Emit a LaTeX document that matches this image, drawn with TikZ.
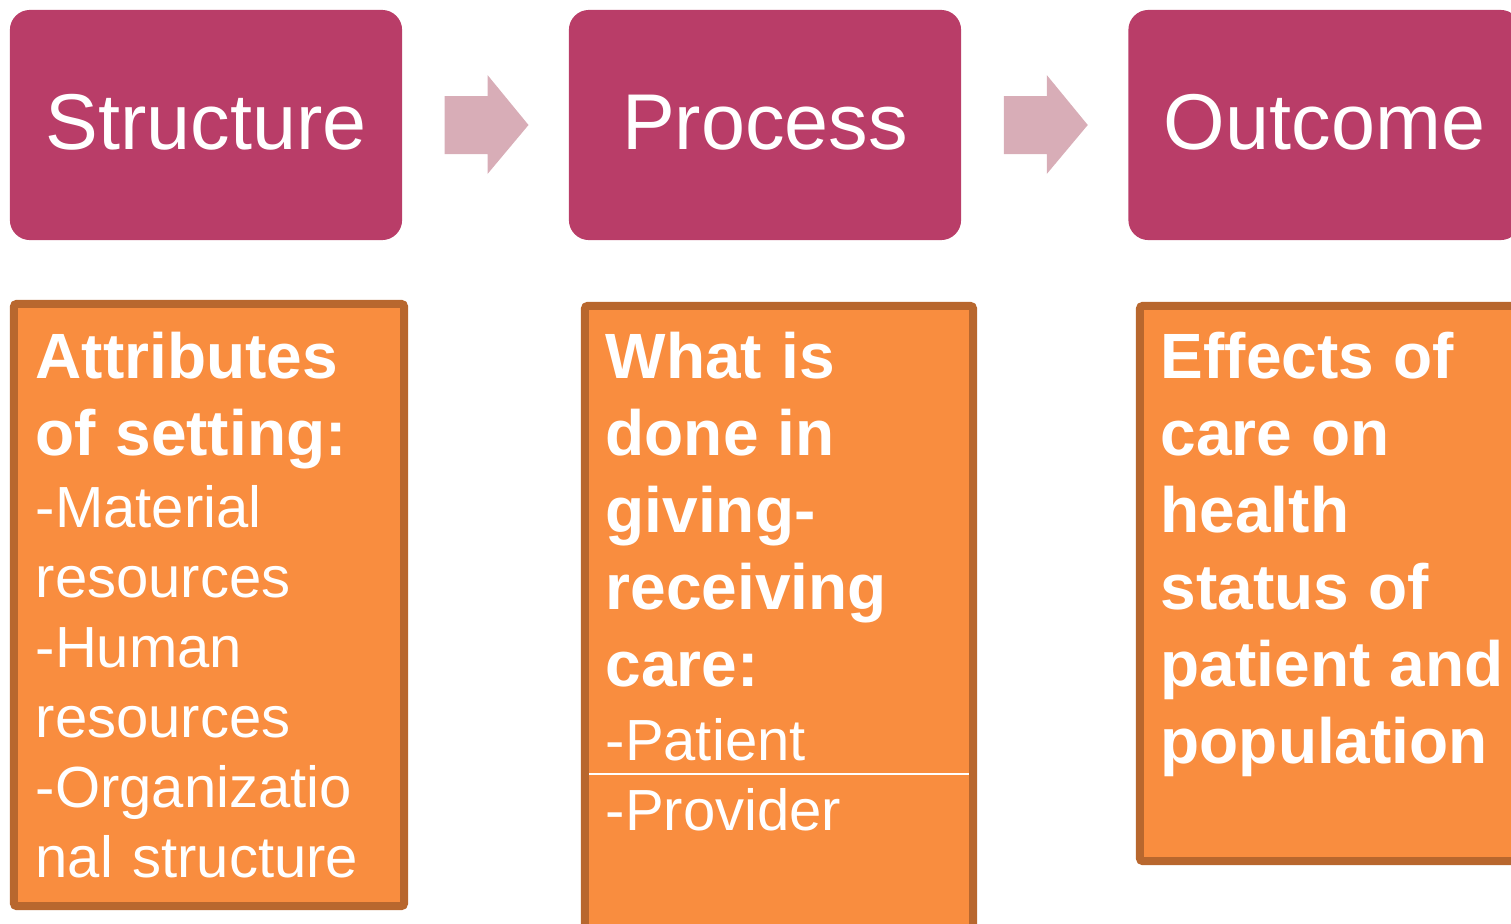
\documentclass[tikz,border=0pt]{standalone}
\usepackage{fontspec}
\setmainfont{Liberation Sans}
\usetikzlibrary{calc}
\definecolor{stagepink}{HTML}{B93D68}
\definecolor{arrowpink}{HTML}{D8ADB7}
\definecolor{boxorange}{HTML}{F98D3F}
\definecolor{boxbrown}{HTML}{B8672E}
\tikzset{
  stage/.style={fill=stagepink, rounded corners=0.2cm, minimum width=3.92cm,
    minimum height=2.3cm, inner sep=0pt, text=white,
    font=\fontsize{22.5}{27}\selectfont, text height=17pt, text depth=2.8pt},
  detail/.style={draw=boxbrown, fill=boxorange, line width=0.08cm,
    rounded corners=0.03cm, inner sep=0pt},
  detailtext/.style={anchor=north west, inner sep=0pt, text=white,
    text width=4.2cm, align=left, font=\fontsize{16.5}{19.9}\selectfont},
  flowarrow/.style={fill=arrowpink}
}
\newcommand{\boldline}[1]{{\fontsize{18.2}{19.9}\selectfont\bfseries #1}}
\begin{document}
\begin{tikzpicture}[x=0.01cm, y=-0.01cm]
	\useasboundingbox (0,0) rectangle (1511,924);
	\clip (0,0) rectangle (1511,924);
	% top row
	\node[stage] (structure) at (206,125) {Structure};
	\node[stage] (process) at (765,125) {Process};
	\node[stage] (outcome) at (1324.5,125) {Outcome};
	\foreach \from/\to in {structure/process, process/outcome}
	\fill[flowarrow] ($(\from.east)!0.5!(\to.west)$) ++(-41,-29) -- ++(43,0)
		-- ++(0,-21) -- ++(41,50) -- ++(-41,49) -- ++(0,-20) -- ++(-43,0) -- cycle;
	% bottom row
	\node[detail, minimum width=3.90cm, minimum height=6.02cm] (structurebox) at (209,605) {};
	\node[detail, minimum width=3.88cm, minimum height=6.30cm] (processbox) at (779,621) {};
	\node[detail, minimum width=3.86cm, minimum height=5.55cm] (outcomebox) at (1333,583.5) {};
	\draw[white, line width=0.3pt] (589,774) -- (969,774);
	\node[detailtext] (structuretext) at (35,331.5) {%
		\boldline{Attributes}\\[2pt]
		\boldline{of setting:}\\[0.6pt]
		-Material\\
		resources\\
		-Human\\
		resources\\
		-Organizatio\\
		nal structure};
	\node[detailtext] (processtext) at (605,331.5) {%
		\boldline{What is}\\[2pt]
		\boldline{done in}\\[2pt]
		\boldline{giving-}\\[2pt]
		\boldline{receiving}\\[2pt]
		\boldline{care:}\\[1pt]
		-Patient\\
		-Provider};
	\node[detailtext] (outcometext) at (1160,331.5) {%
		\boldline{Effects of}\\[2pt]
		\boldline{care on}\\[2pt]
		\boldline{health}\\[2pt]
		\boldline{status of}\\[2pt]
		\boldline{patient and}\\[2pt]
		\boldline{population}};
\end{tikzpicture}
\end{document}
